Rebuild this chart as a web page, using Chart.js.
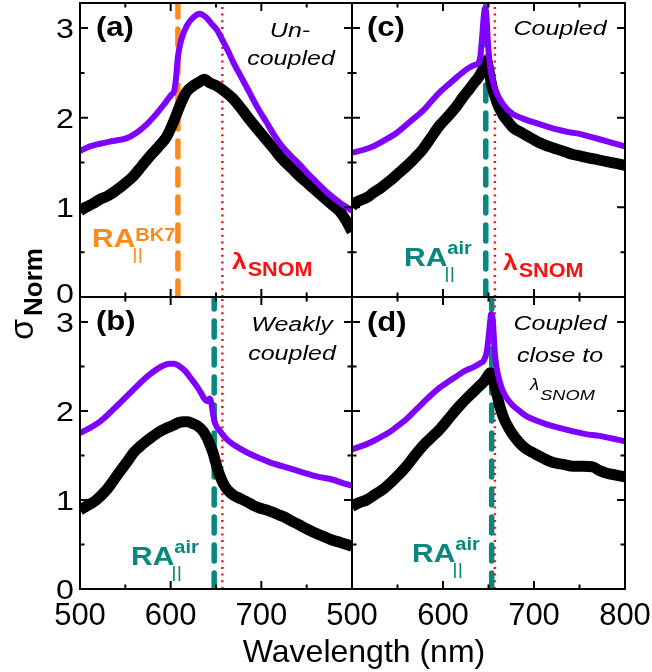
<!DOCTYPE html>
<html>
<head>
<meta charset="utf-8">
<script src="https://cdn.jsdelivr.net/npm/chart.js@4.4.1/dist/chart.umd.min.js"></script>
<style>
  html, body { margin: 0; padding: 0; background: #fff; }
  #wrap { position: relative; width: 652px; height: 672px; }
  canvas { position: absolute; left: 0; top: 0; }
</style>
</head>
<body>
<div id="wrap">
  <canvas id="pa" width="652" height="672"></canvas>
  <canvas id="pb" width="652" height="672"></canvas>
  <canvas id="pc" width="652" height="672"></canvas>
  <canvas id="pd" width="652" height="672"></canvas>
</div>
<script>
// axis ticks
const xMajor = [500, 600, 700, 800];
const xMinor = [550, 650, 750];
const yMajor = [0, 1, 2, 3];
const yMinor = [0.5, 1.5, 2.5];
const xLabelsLeft = ['500', '600', '700'];
const xLabelsRight = ['500', '600', '700', '800'];
const yLabels = ['0', '1', '2', '3'];

// (a) un-coupled  [wavelength nm, sigma norm]
const aPurple = [[500,1.63],[511,1.68],[522,1.71],[536,1.74],[551,1.77],[562,1.83],[573,1.92],[584,2.04],[595,2.18],[601,2.26],[604,2.30],[606,2.45],[608,2.68],[612,2.88],[618,3.03],[625,3.12],[632,3.16],[639,3.12],[645,3.05],[651,2.98],[658,2.85],[664,2.73],[669,2.62],[678,2.45],[687,2.28],[696,2.11],[705,1.96],[714,1.81],[723,1.68],[733,1.57],[742,1.48],[751,1.38],[760,1.29],[769,1.20],[778,1.12],[787,1.05],[796,0.99],[800,0.96]];
const aBlack = [[500,0.96],[506,1.00],[514,1.04],[522,1.09],[531,1.13],[540,1.19],[549,1.26],[559,1.35],[568,1.46],[577,1.57],[586,1.67],[595,1.78],[600,1.88],[605,2.00],[610,2.13],[617,2.28],[624,2.35],[632,2.40],[637,2.43],[643,2.39],[650,2.36],[660,2.29],[669,2.21],[678,2.10],[687,1.98],[696,1.87],[705,1.76],[714,1.65],[723,1.54],[733,1.44],[742,1.35],[751,1.27],[760,1.19],[769,1.11],[778,1.03],[786,0.96],[793,0.86],[800,0.73]];

// (b) weakly coupled
const bPurple = [[500,1.75],[511,1.81],[522,1.88],[531,1.96],[540,2.05],[550,2.15],[559,2.24],[568,2.33],[577,2.41],[585,2.47],[592,2.51],[598,2.53],[604,2.53],[610,2.50],[616,2.45],[622,2.37],[628,2.29],[633,2.21],[637,2.14],[640,2.11],[643,2.14],[645,2.08],[647,1.95],[649,1.86],[654,1.78],[661,1.69],[668,1.63],[676,1.58],[687,1.52],[698,1.47],[710,1.42],[723,1.38],[736,1.34],[749,1.30],[763,1.26],[778,1.23],[790,1.19],[800,1.16]];
const bBlack = [[500,0.89],[507,0.93],[518,1.00],[529,1.11],[537,1.22],[544,1.32],[552,1.43],[559,1.53],[566,1.60],[573,1.66],[581,1.72],[588,1.77],[596,1.81],[603,1.84],[609,1.87],[614,1.88],[619,1.88],[624,1.86],[630,1.83],[636,1.77],[640,1.70],[643,1.63],[647,1.52],[650,1.41],[653,1.31],[656,1.23],[660,1.15],[665,1.09],[670,1.05],[676,1.02],[684,0.98],[691,0.94],[698,0.91],[705,0.89],[713,0.86],[720,0.83],[727,0.80],[734,0.76],[742,0.72],[749,0.68],[757,0.64],[764,0.61],[771,0.58],[778,0.55],[788,0.52],[800,0.48]];

// (c) coupled
const cPurple = [[500,1.61],[512,1.64],[523,1.68],[536,1.75],[549,1.83],[563,1.95],[578,2.08],[587,2.18],[596,2.28],[606,2.37],[615,2.45],[622,2.51],[629,2.56],[635,2.59],[639,2.61],[641,2.68],[643,2.90],[645,3.15],[646,3.22],[647,3.20],[648,3.10],[649,2.90],[650,2.75],[652,2.55],[655,2.40],[658,2.30],[664,2.18],[670,2.10],[677,2.04],[688,1.99],[699,1.95],[712,1.91],[725,1.87],[738,1.84],[750,1.82],[761,1.79],[772,1.76],[786,1.72],[800,1.68]];
const cBlack = [[500,1.01],[505,1.06],[512,1.09],[518,1.12],[523,1.16],[532,1.22],[541,1.29],[550,1.37],[560,1.46],[569,1.55],[578,1.65],[587,1.78],[596,1.91],[606,2.02],[615,2.13],[622,2.23],[629,2.32],[635,2.40],[639,2.45],[644,2.54],[648,2.63],[650,2.55],[652,2.44],[654,2.34],[657,2.24],[660,2.15],[666,2.03],[672,1.95],[677,1.89],[685,1.84],[692,1.80],[699,1.76],[706,1.72],[716,1.68],[725,1.65],[734,1.62],[743,1.59],[752,1.57],[761,1.55],[771,1.53],[780,1.51],[790,1.49],[800,1.47]];

// (d) coupled close to lambda SNOM
const dPurple = [[500,1.57],[512,1.61],[523,1.66],[532,1.71],[541,1.76],[550,1.83],[560,1.91],[569,2.00],[578,2.09],[587,2.18],[596,2.26],[606,2.33],[615,2.39],[624,2.45],[633,2.49],[640,2.53],[645,2.57],[648,2.66],[650,2.82],[652,3.02],[653,3.09],[654,3.07],[655,2.98],[656,2.80],[657,2.64],[659,2.48],[662,2.34],[666,2.22],[671,2.13],[677,2.06],[684,2.00],[692,1.94],[703,1.89],[714,1.85],[728,1.81],[743,1.77],[757,1.74],[772,1.72],[786,1.69],[800,1.66]];
const dBlack = [[500,0.93],[508,0.97],[516,1.00],[525,1.06],[534,1.12],[543,1.20],[551,1.28],[560,1.38],[569,1.50],[578,1.61],[587,1.70],[596,1.79],[606,1.91],[615,2.02],[624,2.12],[633,2.21],[640,2.28],[645,2.33],[649,2.39],[652,2.43],[654,2.41],[656,2.32],[659,2.20],[662,2.07],[666,1.94],[670,1.85],[675,1.76],[680,1.69],[686,1.62],[692,1.57],[699,1.53],[710,1.47],[721,1.42],[732,1.40],[743,1.38],[754,1.38],[765,1.37],[772,1.33],[780,1.30],[790,1.28],[800,1.26]];

// Rayleigh anomaly and SNOM wavelength markers (nm)
const raPositions = [608, 648, 647, 653.5];
const snomWavelength = 657;

const PURPLE = '#8000ff';
const TEAL = '#08877f';
const ORANGE = '#ff8a1c';
const RED = '#ff1010';
const FONT = '"Liberation Sans", Arial, sans-serif';
const YMAX = 3.28;

function txt(ctx, s, x, y, font, color, align, sx) {
  sx = sx || 1;
  ctx.save();
  ctx.translate(x, y);
  ctx.scale(sx, 1);
  ctx.font = font;
  ctx.fillStyle = color;
  ctx.textAlign = align || 'left';
  ctx.textBaseline = 'alphabetic';
  ctx.fillText(s, 0, 0);
  const w = ctx.measureText(s).width * sx;
  ctx.restore();
  return w;
}

function raLabel(ctx, x, y, sup, supDy, color) {
  const w = txt(ctx, 'RA', x, y, 'bold 25px ' + FONT, color, 'left', 1.2);
  txt(ctx, sup, x + w, y + supDy, 'bold 19px ' + FONT, color, 'left', 1.05);
  txt(ctx, '||', x + w - 3, y + 13, '17px ' + FONT, color, 'left', 1.2);
}

function snomLabel(ctx, x, y) {
  const w = txt(ctx, 'λ', x, y, 'bold 22px ' + FONT, RED, 'left', 1.2);
  txt(ctx, 'SNOM', x + w + 1, y + 7, 'bold 20px ' + FONT, RED, 'left', 1.08);
}

function curve(pts, color, width) {
  return {
    data: pts.map(p => ({ x: p[0], y: p[1] })),
    borderColor: color, borderWidth: width,
    pointRadius: 0, fill: false,
    cubicInterpolationMode: 'monotone', clip: 0
  };
}

function vline(x, color, width, dash, cap) {
  return {
    data: [{ x: x, y: 0 }, { x: x, y: YMAX }],
    borderColor: color, borderWidth: width,
    borderDash: dash, borderCapStyle: cap,
    pointRadius: 0, fill: false, clip: 0
  };
}

const framePlugin = {
  id: 'frame',
  afterDatasetsDraw(chart, args, opts) {
    const ctx = chart.ctx;
    const xs = chart.scales.x, ys = chart.scales.y;
    const a = chart.chartArea;
    ctx.save();
    ctx.strokeStyle = '#000';
    ctx.lineWidth = 2;
    ctx.strokeRect(a.left, a.top, a.right - a.left, a.bottom - a.top);
    ctx.beginPath();
    xMajor.concat(xMinor).forEach(v => {
      const len = xMajor.includes(v) ? 8 : 4.5;
      const px = xs.getPixelForValue(v);
      ctx.moveTo(px, a.bottom); ctx.lineTo(px, a.bottom - len);
      ctx.moveTo(px, a.top); ctx.lineTo(px, a.top + len);
    });
    yMajor.concat(yMinor).forEach(v => {
      const len = yMajor.includes(v) ? 8 : 4.5;
      const py = ys.getPixelForValue(v);
      ctx.moveTo(a.left, py); ctx.lineTo(a.left + len, py);
      ctx.moveTo(a.right, py); ctx.lineTo(a.right - len, py);
    });
    ctx.stroke();

    if (opts.yLabels) {
      yMajor.forEach((v, i) => {
        let py = ys.getPixelForValue(v) + 10;
        if (opts.lowZeroUp && v === 0) py -= 4;
        txt(ctx, yLabels[i], a.left - 6, py, '28px ' + FONT, '#000', 'right', 1.15);
      });
    }
    if (opts.xLabels) {
      opts.xLabels.forEach((s, i) => {
        txt(ctx, s, xs.getPixelForValue(xMajor[i]), 625, '31px ' + FONT, '#000', 'center', 1);
      });
    }
    if (opts.draw) opts.draw(ctx, a);
    ctx.restore();
  }
};

function panel(id, box, purple, black, raX, raColor, frameOpts) {
  new Chart(document.getElementById(id), {
    type: 'line',
    data: {
      datasets: [
        curve(purple, PURPLE, 6),
        curve(black, '#000', 11),
        vline(snomWavelength, RED, 2.5, [2, 4.7], 'butt'),
        vline(raX, raColor, 5.5, [16, 12], 'round')
      ]
    },
    options: {
      responsive: false,
      animation: false,
      events: [],
      layout: { padding: { left: box[0], top: box[1], right: 652 - box[2], bottom: 672 - box[3] } },
      plugins: { legend: { display: false }, tooltip: { enabled: false }, frame: frameOpts },
      scales: {
        x: { type: 'linear', min: 500, max: 800, display: false },
        y: { type: 'linear', min: 0, max: YMAX, display: false }
      }
    },
    plugins: [framePlugin]
  });
}

const ital = 'italic 20px ' + FONT;

panel('pa', [80, 3, 352, 297], aPurple, aBlack, raPositions[0], ORANGE, {
  yLabels: true, lowZeroUp: true,
  draw(ctx) {
    txt(ctx, '(a)', 96, 36, 'bold 27px ' + FONT, '#000', 'left', 1.15);
    txt(ctx, 'Un-', 290, 37, ital, '#000', 'center', 1.25);
    txt(ctx, 'coupled', 291, 65, ital, '#000', 'center', 1.25);
    raLabel(ctx, 92, 247, 'BK7', -6, ORANGE);
    snomLabel(ctx, 232, 269);
    // y axis title
    ctx.save();
    ctx.translate(33, 340);
    ctx.rotate(-Math.PI / 2);
    const w = txt(ctx, 'σ', 0, 0, '34px ' + FONT, '#000', 'left', 1);
    txt(ctx, 'Norm', w + 3, 9, 'bold 26px ' + FONT, '#000', 'left', 1);
    ctx.restore();
  }
});

panel('pb', [80, 297, 352, 589], bPurple, bBlack, raPositions[1], TEAL, {
  yLabels: true, xLabels: xLabelsLeft,
  draw(ctx) {
    txt(ctx, '(b)', 96, 330, 'bold 27px ' + FONT, '#000', 'left', 1.15);
    txt(ctx, 'Weakly', 292, 331, ital, '#000', 'center', 1.25);
    txt(ctx, 'coupled', 292, 360, ital, '#000', 'center', 1.25);
    raLabel(ctx, 131, 565, 'air', -12, TEAL);
  }
});

panel('pc', [352, 3, 625, 297], cPurple, cBlack, raPositions[2], TEAL, {
  draw(ctx) {
    txt(ctx, '(c)', 367, 36, 'bold 27px ' + FONT, '#000', 'left', 1.15);
    txt(ctx, 'Coupled', 560, 35, ital, '#000', 'center', 1.25);
    raLabel(ctx, 404, 266, 'air', -12, TEAL);
    snomLabel(ctx, 503, 270);
  }
});

panel('pd', [352, 297, 625, 589], dPurple, dBlack, raPositions[3], TEAL, {
  xLabels: xLabelsRight,
  draw(ctx) {
    txt(ctx, '(d)', 367, 331, 'bold 27px ' + FONT, '#000', 'left', 1.15);
    txt(ctx, 'Coupled', 560, 330, ital, '#000', 'center', 1.25);
    txt(ctx, 'close to', 560, 362, ital, '#000', 'center', 1.25);
    const w = txt(ctx, 'λ', 530, 390, 'italic 17px ' + FONT, '#000', 'left', 1.1);
    txt(ctx, 'SNOM', 530 + w + 1, 400, 'italic 14px ' + FONT, '#000', 'left', 1.3);
    raLabel(ctx, 412, 562, 'air', -12, TEAL);
    txt(ctx, 'Wavelength (nm)', 364, 662, '32px ' + FONT, '#000', 'center', 1);
  }
});
</script>
</body>
</html>
